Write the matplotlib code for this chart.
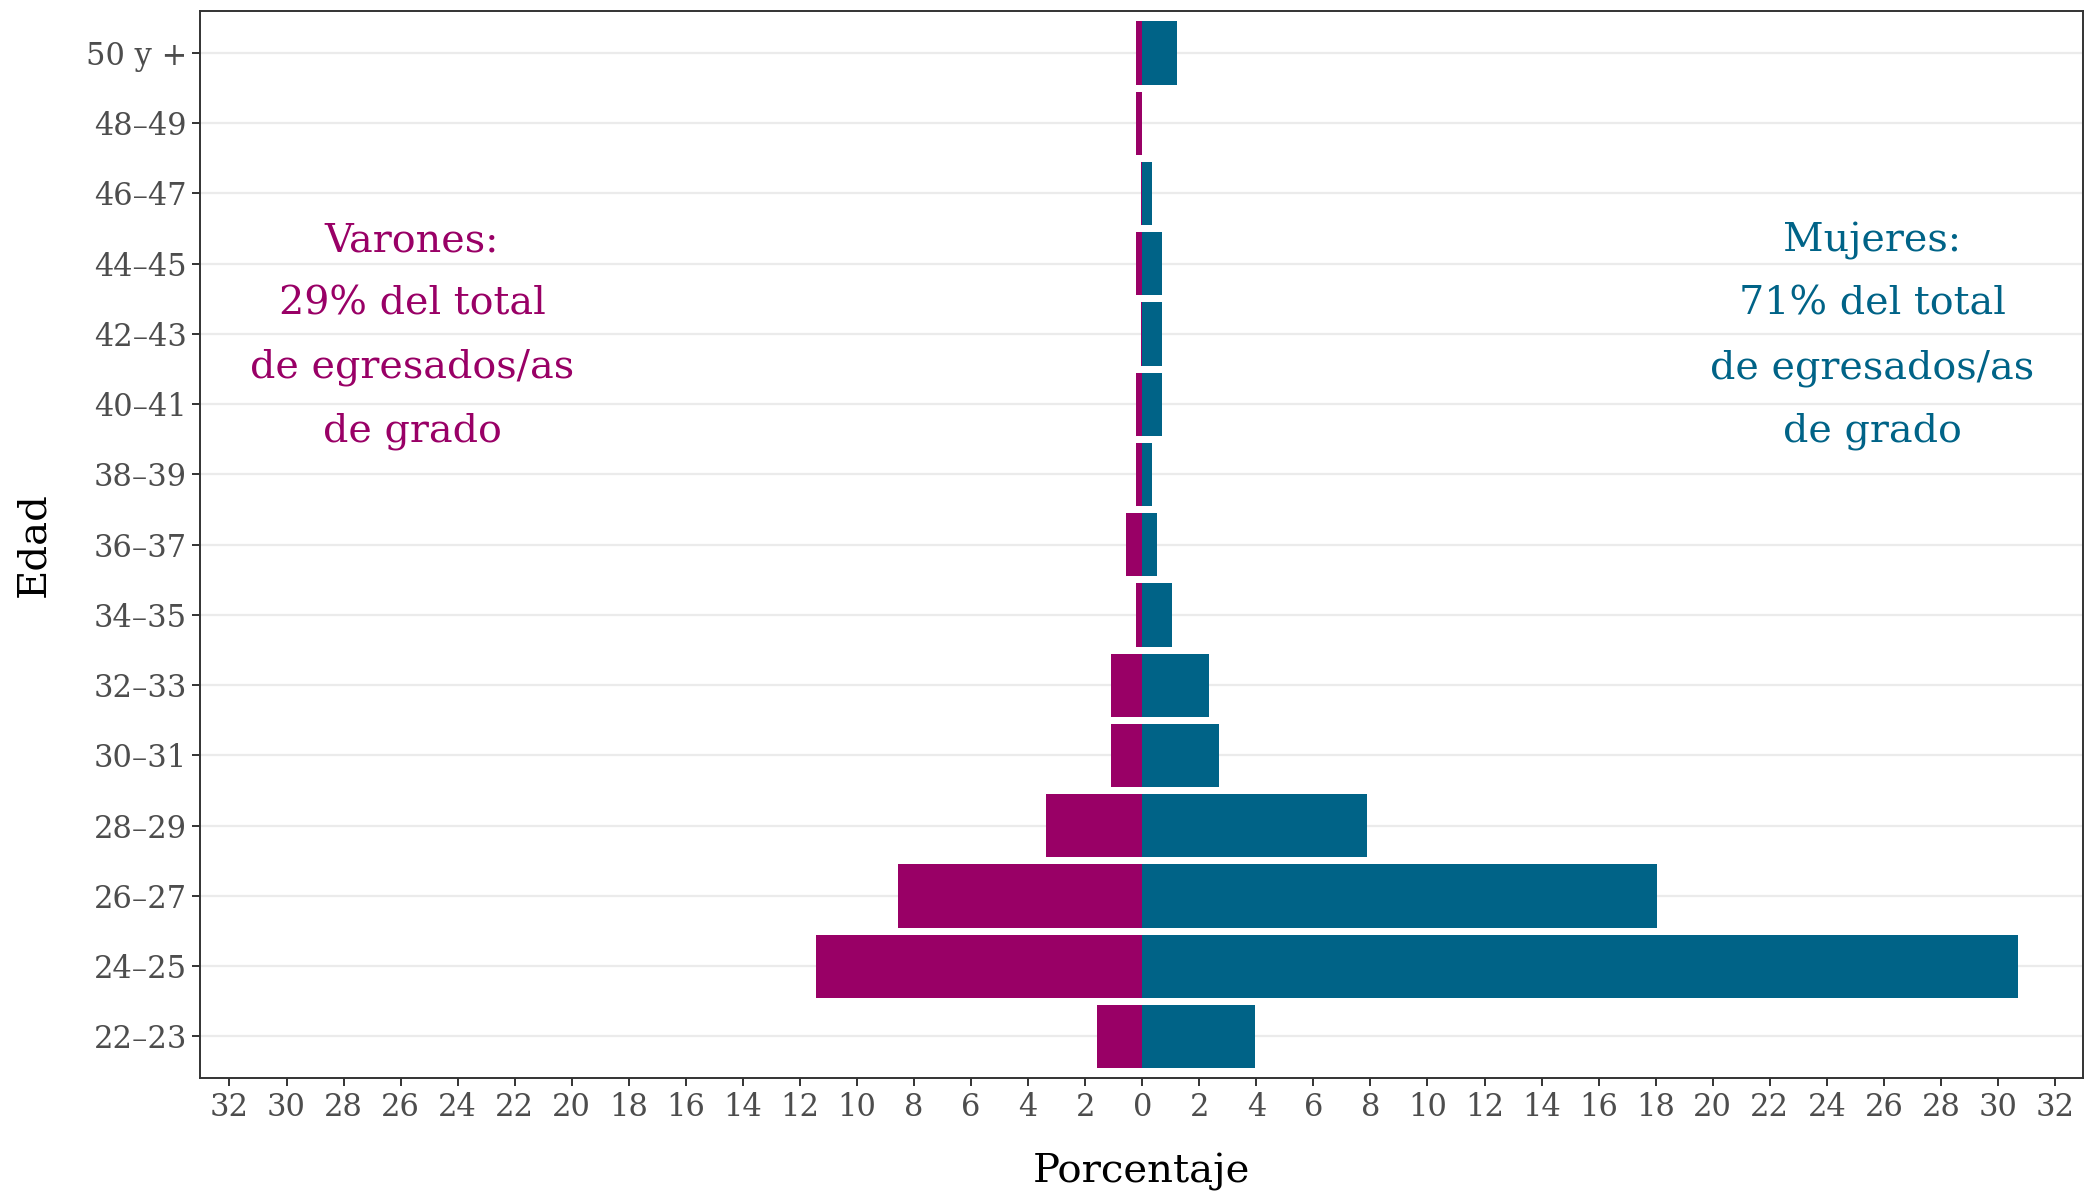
import matplotlib
matplotlib.use("Agg")
import matplotlib.pyplot as plt
import numpy as np

plt.rcParams['font.family'] = ['DejaVu Serif']

edades = ["22–23", "24–25", "26–27", "28–29", "30–31", "32–33", "34–35",
          "36–37", "38–39", "40–41", "42–43", "44–45", "46–47", "48–49", "50 y +"]
varones = [1.6, 11.43, 8.55, 3.39, 1.08, 1.08, 0.21, 0.56, 0.21, 0.21, 0.03, 0.21, 0.03, 0.21, 0.21]
mujeres = [3.95, 30.72, 18.05, 7.87, 2.7, 2.34, 1.05, 0.52, 0.35, 0.7, 0.7, 0.7, 0.35, 0.0, 1.22]
ticks = list(range(-32, 33, 2))

col_v = "#990066"
col_m = "#006387"

fig = plt.figure(figsize=(20.85, 11.95), dpi=100)
ax = fig.add_axes([0.0957, 0.098, 0.9033, 0.893])

y = np.arange(len(edades))
ax.barh(y, -np.array(varones), height=0.9, color=col_v, zorder=3)
ax.barh(y, mujeres, height=0.9, color=col_m, zorder=3)

ax.set_xlim(-33.05, 32.98)
ax.set_ylim(-0.59, 14.6)
ax.set_yticks(y)
ax.set_yticklabels(edades)
ax.set_xticks(ticks)
ax.set_xticklabels([str(abs(t)) for t in ticks])

ax.grid(axis='y', color='#EBEBEB', linewidth=1.6, zorder=0)
ax.grid(axis='x', visible=False)
for s in ax.spines.values():
    s.set_color('#333333')
    s.set_linewidth(1.4)

ax.tick_params(axis='both', colors='#333333', labelcolor='#4D4D4D', labelsize=22,
               length=6, width=1.4)
ax.tick_params(axis='x', pad=4)
ax.tick_params(axis='y', pad=3)

ax.set_xlabel("Porcentaje", fontsize=29, color='black', labelpad=22)
ax.set_ylabel("Edad", fontsize=29, color='black', labelpad=24)

ax.text(-25.6, 9.97, "Varones:\n29% del total\nde egresados/as\nde grado", color=col_v,
        fontsize=28.5, ha='center', va='center', linespacing=1.9, zorder=4)
ax.text(25.6, 9.97, "Mujeres:\n71% del total\nde egresados/as\nde grado", color=col_m,
        fontsize=28.5, ha='center', va='center', linespacing=1.9, zorder=4)

fig.savefig("out.png", dpi=100)
